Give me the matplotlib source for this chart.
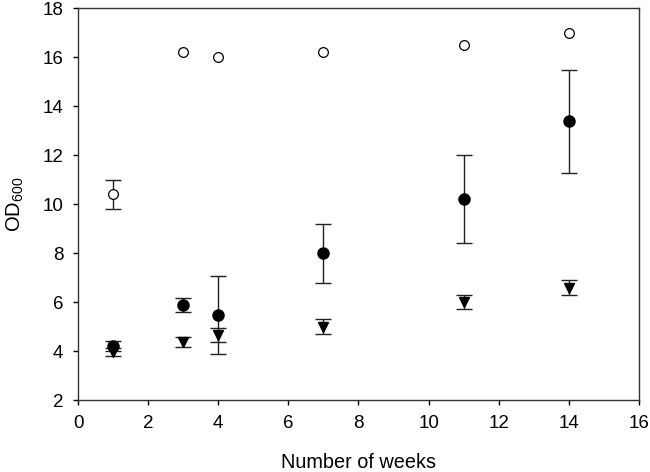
import matplotlib
matplotlib.use("Agg")
import matplotlib.pyplot as plt

plt.rcParams['font.family'] = ['Liberation Sans', 'DejaVu Sans']
plt.rcParams['mathtext.fontset'] = 'custom'
plt.rcParams['mathtext.rm'] = 'Liberation Sans'
plt.rcParams['mathtext.it'] = 'Liberation Sans'
plt.rcParams['mathtext.default'] = 'regular'

weeks = [1, 3, 4, 7, 11, 14]

open_y = [10.4, 16.2, 16.0, 16.2, 16.5, 17.0]
open_err = [0.6, 0, 0, 0, 0, 0]

filled_y = [4.22, 5.88, 5.47, 7.99, 10.19, 13.38]
filled_err = [0.2, 0.3, 1.6, 1.2, 1.8, 2.1]

tri_y = [3.95, 4.36, 4.65, 5.0, 6.0, 6.58]
tri_err = [0.17, 0.2, 0.3, 0.3, 0.3, 0.3]

fig = plt.figure(figsize=(6.5, 4.72), dpi=100)
ax = fig.add_axes([0.12, 0.1525, 0.863, 0.8305])

ekw = dict(ecolor='#222222', elinewidth=1.0, capsize=5.5, capthick=1.0, linestyle='none')
# open circles: only the first has error bars
ax.errorbar(weeks[:1], open_y[:1], yerr=open_err[:1], fmt='none', **ekw)
ax.plot(weeks, open_y, linestyle='none', marker='o', markersize=7,
        markerfacecolor='white', markeredgecolor='black', markeredgewidth=0.9, zorder=3)
ax.errorbar(weeks, filled_y, yerr=filled_err, fmt='o', color='black', markersize=8,
            zorder=3, **ekw)
ax.errorbar(weeks, tri_y, yerr=tri_err, fmt='v', color='black', markersize=7.5,
            zorder=3, **ekw)

ax.set_xlim(0, 16)
ax.set_ylim(2, 18)
ax.set_xticks(range(0, 17, 2))
ax.set_yticks(range(2, 19, 2))
ax.tick_params(direction='out', length=3.6, width=1, pad=7, labelsize=13.5,
               top=False, right=False, colors='black')
for s in ax.spines.values():
    s.set_linewidth(1.0)
    s.set_color('#333333')
ax.set_xlabel('Number of weeks', fontsize=14.3, labelpad=15)
ax.set_ylabel('OD$_{600}$', fontsize=14.5, labelpad=12)

fig.savefig('out.png', dpi=100)
